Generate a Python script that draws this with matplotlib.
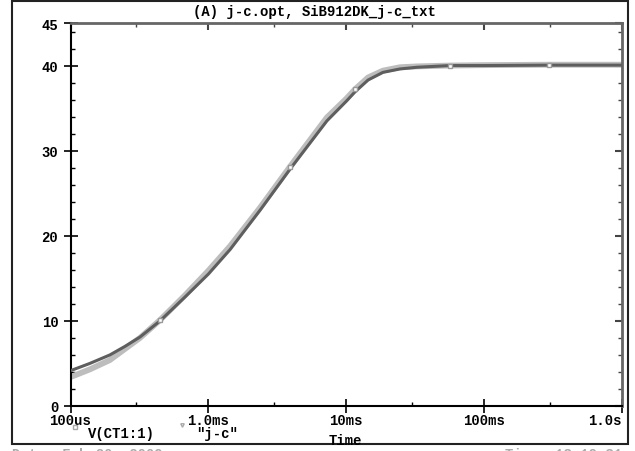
import numpy as np
import matplotlib.pyplot as plt
from matplotlib.patches import Rectangle
from matplotlib.ticker import FixedLocator, NullFormatter

# simulated curve V(CT1:1)
t_sim = [1e-4, 1.38e-4, 1.93e-4, 2.48e-4, 3.19e-4, 4.46e-4, 6.76e-4, 1e-3, 1.44e-3,
         2.37e-3, 3.9e-3, 7.24e-3, 1e-2, 1.156e-2, 1.44e-2, 1.845e-2, 2.45e-2,
         3.26e-2, 5.65e-2, 0.1, 0.295, 1.0]
v_sim = [4.15, 5.0, 6.0, 7.0, 8.1, 10.0, 12.8, 15.5, 18.4,
         23.0, 27.8, 33.5, 35.8, 36.9, 38.3, 39.2, 39.6,
         39.8, 40.0, 40.0, 40.05, 40.05]

# measured curve "j-c"
t_meas = [1e-4, 1.38e-4, 1.93e-4, 2.48e-4, 3.19e-4, 4.46e-4, 6.76e-4, 1e-3, 1.44e-3,
          2.37e-3, 3.9e-3, 7.24e-3, 1e-2, 1.156e-2, 1.44e-2, 1.845e-2, 2.45e-2,
          3.26e-2, 5.65e-2, 0.1, 0.295, 1.0]
v_meas = [3.4, 4.3, 5.4, 6.7, 8.0, 10.1, 13.0, 15.9, 18.8,
          23.3, 28.1, 33.9, 36.1, 37.2, 38.6, 39.4, 39.8,
          39.9, 40.0, 40.05, 40.1, 40.1]
marks = [5, 10, 13, 18, 20]

x_major = [1e-4, 1e-3, 1e-2, 1e-1, 1.0]
x_minor = [3e-4, 3e-3, 3e-2, 3e-1]
x_labels = ['100us', '1.0ms', '10ms', '100ms', '1.0s']
y_major = [0, 10, 20, 30, 40, 45]
y_minor = [2, 4, 6, 8, 12, 14, 16, 18, 22, 24, 26, 28, 32, 34, 36, 38, 42, 44]

W, H = 635, 452
fnt = dict(family='Liberation Mono', weight='bold', size=10)

fig = plt.figure(figsize=(W / 100, H / 100), dpi=100)
ax = fig.add_axes([70.5 / W, 1 - 407 / H, (622 - 70.5) / W, (407 - 24) / H])

ax.plot(t_meas, v_meas, color='#bdbdbd', lw=4.2, solid_capstyle='butt', zorder=2)
ax.plot(t_meas, v_meas, ls='none', marker='s', ms=3, mfc='white', mec='#999999',
        markevery=marks, zorder=4)
ax.plot(t_sim, v_sim, color='#5e5e5e', lw=2.2, zorder=3)

ax.set_xscale('log')
ax.set_xlim(1e-4, 1.0)
ax.set_ylim(0, 45)

ax.xaxis.set_major_locator(FixedLocator(x_major))
ax.xaxis.set_minor_locator(FixedLocator(x_minor))
ax.xaxis.set_minor_formatter(NullFormatter())
ax.set_xticklabels(x_labels)
ax.yaxis.set_major_locator(FixedLocator(y_major))
ax.yaxis.set_minor_locator(FixedLocator(y_minor))

ax.tick_params(which='major', direction='inout', length=9.5, width=1.2, pad=0)
ax.tick_params(which='minor', direction='in', length=3, width=1)
ax.tick_params(axis='y', which='major', pad=4)
for lab in ax.get_xticklabels() + ax.get_yticklabels():
    lab.set_fontproperties(fnt)
ax.get_xticklabels()[-1].set_horizontalalignment('right')

for s in ['left', 'bottom']:
    ax.spines[s].set_linewidth(1.5)
    ax.spines[s].set_color('black')
for s in ['top', 'right']:
    ax.spines[s].set_linewidth(2)
    ax.spines[s].set_color('#666666')

# ticks on top and right pointing inwards
top = ax.secondary_xaxis('top')
top.xaxis.set_major_locator(FixedLocator(x_major))
top.xaxis.set_minor_locator(FixedLocator(x_minor))
top.tick_params(which='major', direction='in', length=5, width=1.5, labeltop=False, color='#444444')
top.tick_params(which='minor', direction='in', length=3, width=1, color='#444444')
top.spines['top'].set_visible(False)
right = ax.secondary_yaxis('right')
right.yaxis.set_major_locator(FixedLocator(y_major))
right.yaxis.set_minor_locator(FixedLocator(y_minor))
right.tick_params(which='major', direction='in', length=5, width=1.5, labelright=False, color='#444444')
right.tick_params(which='minor', direction='in', length=3, width=1, color='#444444')
right.spines['right'].set_visible(False)

# outer frame
fig.patches.append(Rectangle((12 / W, 1 - 445 / H), (628 - 12) / W, (445 - 1.5) / H,
                             transform=fig.transFigure, fill=False, lw=1.5, ec='#222222'))

fig.text(314 / W, 1 - 12 / H, '(A) j-c.opt, SiB912DK_j-c_txt', ha='center', va='center', **fnt)

# legend and axis label
fig.text(345 / W, 1 - 441 / H, 'Time', ha='center', va='center', **fnt)
fig.lines.append(plt.Line2D([75 / W], [1 - 428 / H], marker='s', ms=3, mfc='white',
                            mec='#aaaaaa', transform=fig.transFigure))
fig.text(88 / W, 1 - 434 / H, 'V(CT1:1)', ha='left', va='center', **fnt)
fig.lines.append(plt.Line2D([182 / W], [1 - 426 / H], marker='v', ms=2.5, mfc='none',
                            mec='#aaaaaa', transform=fig.transFigure))
fig.text(196 / W, 1 - 434 / H, '"j-c"', ha='left', va='center', **fnt)

# date/time footer, cut off by the picture edge
fig.text(12 / W, 1 - 448 / H, 'Date: Feb 20, 2009', ha='left', va='top', color='#aaaaaa', **fnt)
fig.text(622 / W, 1 - 448 / H, 'Time: 13:19:31', ha='right', va='top', color='#aaaaaa', **fnt)

fig.savefig('out.png', dpi=100)
